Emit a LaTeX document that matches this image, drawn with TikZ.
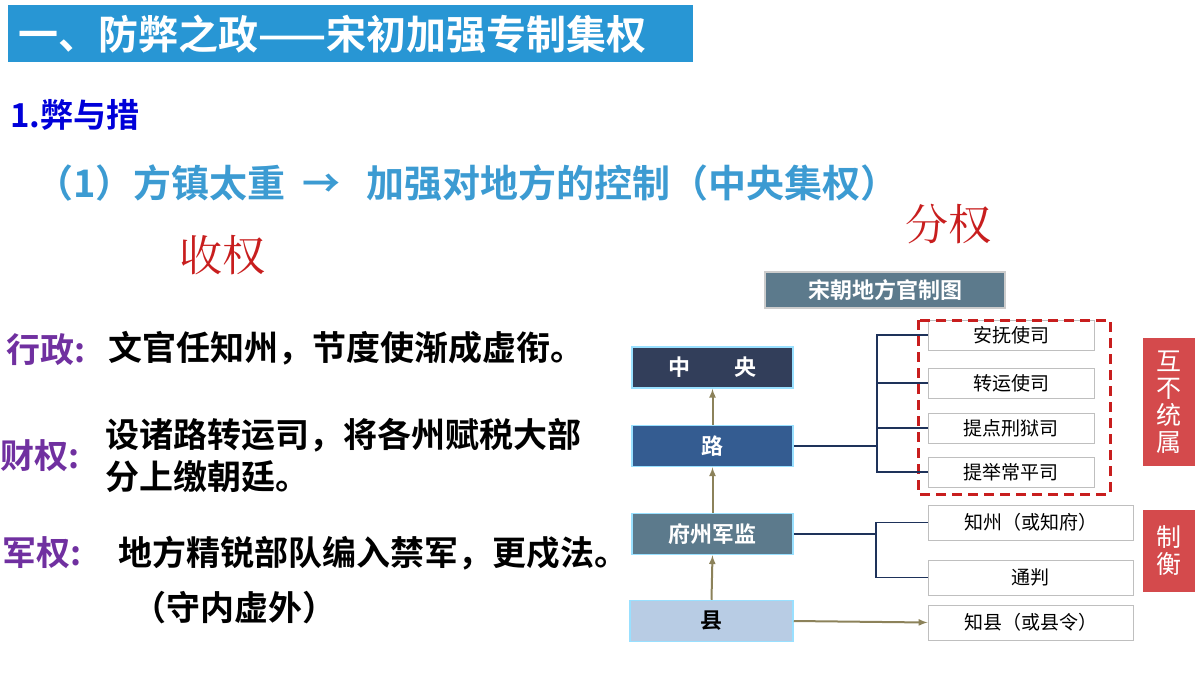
\documentclass[tikz,border=0pt]{standalone}
\usepackage{fontspec}
\setmainfont{Noto Sans CJK SC}
\newfontfamily\cjkb{Noto Sans CJK SC Bold}
\newfontfamily\cjkr{Noto Sans CJK SC}
\begin{document}
\begin{tikzpicture}[x=1pt,y=-1pt,
 lvl/.style={draw=blue!30!cyan!40, line width=1.5pt, minimum width=161pt, minimum height=41pt, text=white, font=\cjkb\fontsize{22}{22}\selectfont},
 wb/.style={draw=gray!50, line width=1pt, fill=white, minimum width=166pt, minimum height=30pt, font=\cjkr\fontsize{19}{19}\selectfont, inner sep=0pt},
 wb2/.style={wb, minimum width=205pt, minimum height=35pt},
 redb/.style={text=white, font=\cjkr\fontsize{25}{27}\selectfont, align=center, text width=26pt, inner sep=0pt},
 up/.style={draw={rgb,255:red,140;green,130;blue,90}, line width=2pt, -latex},
 br/.style={draw={rgb,255:red,30;green,50;blue,90}, line width=1.2pt},
 lab/.style={anchor=west, font=\cjkb\fontsize{34}{42}\selectfont, inner sep=0pt}]
\useasboundingbox (0,0) rectangle (1200,675);
\definecolor{tb}{RGB}{40,150,212}
\definecolor{lb}{RGB}{60,155,210}
\definecolor{pu}{RGB}{112,48,160}
\definecolor{rd}{RGB}{200,30,30}
\definecolor{rbox}{RGB}{212,74,76}
% header
\node[fill=tb, minimum width=685pt, minimum height=57pt, anchor=north west, inner sep=0pt] (hdr) at (8,5) {};
\node[anchor=west, text=white, font=\cjkb\fontsize{40}{40}\selectfont, inner sep=0pt] (htxt) at (18,34) {一、防弊之政——宋初加强专制集权};
\node[anchor=west, text=blue!85!black, font=\cjkb\fontsize{33}{33}\selectfont, inner sep=0pt] (t1) at (10,115) {1.弊与措};
\node[anchor=west, text=lb, font=\cjkb\fontsize{38}{38}\selectfont, inner sep=0pt] (t2) at (35,183) {（1）方镇太重 ~→~~ 加强对地方的控制（中央集权）};
\node[text=rd, font=\fontspec{Noto Serif CJK SC}\fontsize{43}{43}\selectfont] (fq) at (948,224) {分权};
\node[text=rd, font=\fontspec{Noto Serif CJK SC}\fontsize{43}{43}\selectfont] (sq) at (222,255) {收权};
% left items
\node[lab, text=pu] (l1) at (6,350) {行政:};
\node[lab, text=black] (l1t) at (108,348) {文官任知州，节度使渐成虚衔。};
\node[lab, text=pu] (l2) at (0,456) {财权:};
\node[lab, text=black, align=left] (l2t) at (105,455) {设诸路转运司，将各州赋税大部\\分上缴朝廷。};
\node[lab, text=pu] (l3) at (2,553) {军权:};
\node[lab, text=black] (l3t) at (118,553) {地方精锐部队编入禁军，更戍法。};
\node[lab, text=black] (l4) at (132,608) {（守内虚外）};
% diagram title
\node[draw=gray!40, line width=2pt, fill={rgb,255:red,92;green,122;blue,140}, minimum width=240pt, minimum height=36pt, text=white, font=\cjkb\fontsize{22}{22}\selectfont] (dt) at (885,290) {宋朝地方官制图};
% levels
\node[lvl, fill={rgb,255:red,50;green,62;blue,90}] (zy) at (712.5,367.5) {中\qquad 央};
\node[lvl, fill={rgb,255:red,52;green,92;blue,145}] (lu) at (712.5,446) {路};
\node[lvl, fill={rgb,255:red,92;green,122;blue,140}] (fz) at (712.5,534) {府州军监};
\node[lvl, fill={rgb,255:red,184;green,204;blue,228}, text=black, minimum width=163pt] (xian) at (711.5,621) {县};
\draw[up] (fz.north) -- (lu.south);
\draw[up] (lu.north) -- (zy.south);
\draw[up] (xian.north) -- (fz.south);
% right boxes
\node[wb] (a1) at (1011,335) {安抚使司};
\node[wb] (a2) at (1011,383) {转运使司};
\node[wb] (a3) at (1011,428) {提点刑狱司};
\node[wb] (a4) at (1011,472) {提举常平司};
\node[wb2] (b1) at (1030.5,522.5) {知州（或知府）};
\node[wb2] (b2) at (1030.5,577.5) {通判};
\node[wb2] (b3) at (1030.5,622.5) {知县（或县令）};
\draw[rd, dashed, dash pattern=on 10pt off 6pt, line width=3pt] (918,320) rectangle (1110,494);
% brackets
\coordinate (j1) at (877,446);
\draw[br] (lu.east) -- (j1);
\draw[br] (a1.west) -| (j1) |- (a4.west);
\draw[br] (a2.west) -- (a2.west -| j1);
\draw[br] (a3.west) -- (a3.west -| j1);
\coordinate (j2) at (876,534);
\draw[br] (fz.east) -- (j2);
\draw[br] (b1.west) -| (j2) |- (b2.west);
\draw[up] (xian.east) -- (b3.west);
% red side boxes
\node[redb, fill=rbox, minimum width=52pt, minimum height=128pt] (r1) at (1169,402) {互\\不\\统\\属};
\node[redb, fill=rbox, minimum width=52pt, minimum height=82pt] (r2) at (1169,551) {制\\衡};
\end{tikzpicture}
\end{document}
